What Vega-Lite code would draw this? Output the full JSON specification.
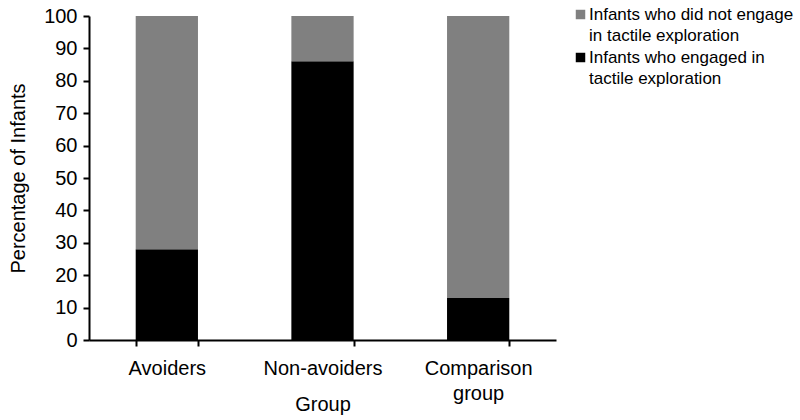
{
  "$schema": "https://vega.github.io/schema/vega-lite/v6.json",
  "autosize": {"type": "none"},
  "width": 467,
  "height": 324,
  "padding": {"left": 89, "top": 16, "right": 244, "bottom": 80},
  "background": "white",
  "config": {
    "font": "Liberation Sans",
    "view": {"stroke": null},
    "axis": {"labelFont": "Liberation Sans", "titleFont": "Liberation Sans", "labelColor": "#000000", "titleColor": "#000000", "domainColor": "#000000", "tickColor": "#000000", "domainWidth": 2, "tickWidth": 2, "labelFontSize": 20, "titleFontSize": 20, "titleFontWeight": "normal", "grid": false},
    "legend": {"labelFont": "Liberation Sans", "labelFontSize": 17, "labelColor": "#000000"}
  },
  "data": {
    "values": [
      {"group": "Avoiders", "status": "Infants who engaged in tactile exploration", "pct": 28},
      {"group": "Avoiders", "status": "Infants who did not engage in tactile exploration", "pct": 72},
      {"group": "Non-avoiders", "status": "Infants who engaged in tactile exploration", "pct": 86},
      {"group": "Non-avoiders", "status": "Infants who did not engage in tactile exploration", "pct": 14},
      {"group": "Comparison group", "status": "Infants who engaged in tactile exploration", "pct": 13},
      {"group": "Comparison group", "status": "Infants who did not engage in tactile exploration", "pct": 87}
    ]
  },
  "mark": {"type": "bar"},
  "encoding": {
    "x": {
      "field": "group", "type": "nominal", "sort": ["Avoiders", "Non-avoiders", "Comparison group"],
      "scale": {"paddingInner": 0.6, "paddingOuter": 0.3},
      "axis": {"title": "Group", "labelAngle": 0, "tickBand": "extent", "tickSize": 6, "labelPadding": 12,
        "labelExpr": "datum.label == 'Comparison group' ? ['Comparison', 'group'] : datum.label", "labelLineHeight": 25,
        "titleY": 64, "titleBaseline": "middle"}
    },
    "y": {
      "field": "pct", "type": "quantitative", "stack": "zero",
      "scale": {"domain": [0, 100], "nice": false},
      "axis": {"title": "Percentage of Infants", "values": [0,10,20,30,40,50,60,70,80,90,100], "tickSize": 6, "labelPadding": 6,
        "titleX": -71, "titleY": 162, "titleBaseline": "middle", "titleAlign": "center", "titleAngle": -90}
    },
    "color": {
      "field": "status", "type": "nominal",
      "scale": {"domain": ["Infants who did not engage in tactile exploration", "Infants who engaged in tactile exploration"], "range": ["#808080", "#000000"]},
      "legend": {"title": null, "orient": "none", "legendX": 483, "legendY": -10, "symbolType": "square", "symbolSize": 90, "symbolStrokeWidth": 0, "rowPadding": 4, "labelLimit": 300, "labelOffset": 0,
        "labelExpr": "datum.label == 'Infants who engaged in tactile exploration' ? ['Infants who engaged in', 'tactile exploration'] : ['Infants who did not engage', 'in tactile exploration']",
        "encode": {"labels": {"update": {"lineHeight": {"value": 21}}}}}
    },
    "order": {"field": "status", "sort": "descending"}
  }
}
